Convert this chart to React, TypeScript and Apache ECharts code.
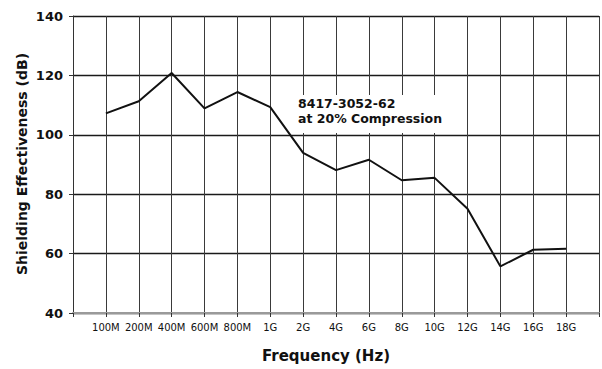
import React, { useEffect, useRef } from "react";
import * as echarts from "echarts";

const categories = ["100M", "200M", "400M", "600M", "800M", "1G", "2G", "4G", "6G", "8G", "10G", "12G", "14G", "16G", "18G"];
const shielding = [107.2, 111.3, 120.8, 108.9, 114.4, 109.3, 93.9, 88.1, 91.6, 84.7, 85.5, 75.1, 55.7, 61.3, 61.6];
const yTicks = { min: 40, max: 140, interval: 20 };
const annotationLines = ["8417-3052-62", "at 20% Compression"];

const FONT = "DejaVu Sans, Verdana, sans-serif";

export default function App() {
  const ref = useRef<HTMLDivElement>(null);
  useEffect(() => {
    if (!ref.current) return;
    const chart = echarts.init(ref.current, undefined, { renderer: "svg" });
    chart.setOption({
      animation: false,
      backgroundColor: "#ffffff",
      grid: { left: 73, right: 3, top: 16, bottom: 56, containLabel: false },
      xAxis: {
        type: "value",
        min: 0,
        max: categories.length + 1,
        interval: 1,
        axisLine: { show: true, lineStyle: { color: "#9a9a9a", width: 2 } },
        axisTick: { show: true, length: 4, inside: false, lineStyle: { color: "#333", width: 1 } },
        axisLabel: {
          margin: 9,
          fontFamily: FONT,
          fontSize: 10,
          color: "#111",
          showMinLabel: true,
          showMaxLabel: true,
          formatter: (v: number) => categories[Math.round(v) - 1] ?? "",
        },
        splitLine: { show: true, lineStyle: { color: "#3a3a3a", width: 1 } },
      },
      yAxis: {
        type: "value",
        min: yTicks.min,
        max: yTicks.max,
        interval: yTicks.interval,
        axisLine: { show: true, lineStyle: { color: "#333", width: 1 } },
        axisTick: { show: true, length: 4, lineStyle: { color: "#333", width: 1 } },
        axisLabel: {
          margin: 10,
          fontFamily: FONT,
          fontSize: 13,
          fontWeight: "bold",
          color: "#111",
        },
        splitLine: { show: true, lineStyle: { color: "#1a1a1a", width: 1.3 } },
      },
      series: [
        {
          type: "line",
          data: shielding.map((v, i) => [i + 1, v]),
          symbol: "none",
          lineStyle: { color: "#111", width: 2 },
          z: 3,
        },
      ],
      graphic: [
        {
          type: "rect",
          shape: { x: 296, y: 95, width: 166, height: 38 },
          style: { fill: "#ffffff" },
          z: 10,
        },
        {
          type: "text",
          x: 298,
          y: 96,
          z: 11,
          style: {
            text: annotationLines.join("\n"),
            fontFamily: FONT,
            fontSize: 12.5,
            fontWeight: "bold",
            lineHeight: 15,
            fill: "#111",
          },
        },
        {
          type: "text",
          x: 22,
          y: 164,
          rotation: Math.PI / 2,
          z: 11,
          style: {
            text: "Shielding Effectiveness (dB)",
            fontFamily: FONT,
            fontSize: 14,
            fontWeight: "bold",
            fill: "#111",
            align: "center",
            verticalAlign: "middle",
          },
        },
        {
          type: "text",
          x: 326,
          y: 356,
          z: 11,
          style: {
            text: "Frequency (Hz)",
            fontFamily: FONT,
            fontSize: 15,
            fontWeight: "bold",
            fill: "#111",
            align: "center",
            verticalAlign: "middle",
          },
        },
      ],
    });
    return () => chart.dispose();
  }, []);
  return (
    <div
      ref={ref}
      style={{ position: "absolute", left: 0, top: 0, width: 602, height: 369 }}
    />
  );
}
